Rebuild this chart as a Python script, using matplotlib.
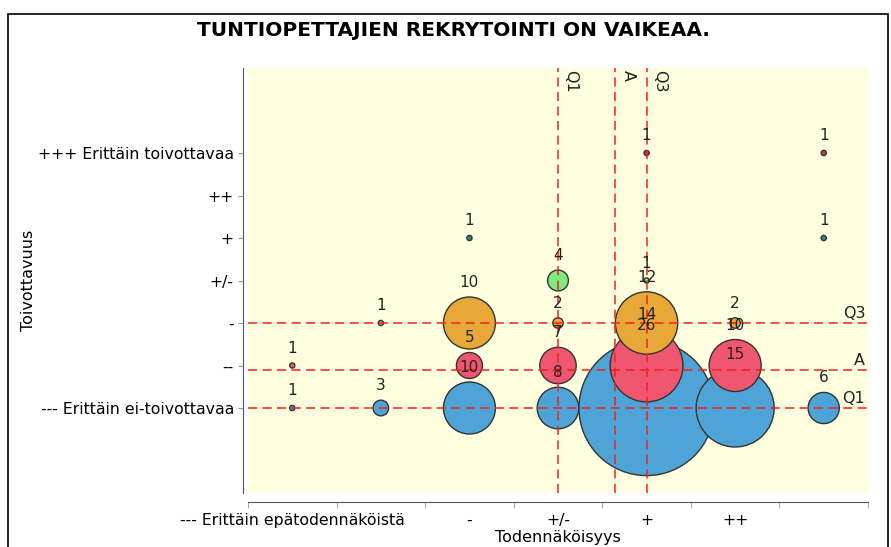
import numpy as np
import matplotlib
matplotlib.use("Agg")
import matplotlib.pyplot as plt
from matplotlib.patches import Rectangle

# likelihood (x) and desirability (y) scales, 1 = "---" ... 7 = "+++"
x_labels = ["--- Erittäin epätodennäköistä", "", "-", "+/-", "+", "++", ""]
y_labels = ["--- Erittäin ei-toivottavaa", "--", "-", "+/-", "+", "++",
            "+++ Erittäin toivottavaa"]

# answers per cell, one list per desirability row
row_1 = {"x": [1, 2, 3, 4, 5, 6, 7], "n": [1, 3, 10, 8, 26, 15, 6]}
row_2 = {"x": [1, 3, 4, 5, 6], "n": [1, 5, 7, 14, 10]}
row_3 = {"x": [2, 3, 4, 5, 6], "n": [1, 10, 2, 12, 2]}
row_4 = {"x": [4, 5], "n": [4, 1]}
row_5 = {"x": [3, 7], "n": [1, 1]}
row_7 = {"x": [5, 7], "n": [1, 1]}

rows = [(1, row_1, "#4ea4d6"),
        (2, row_2, "#f05670"),
        (3, row_3, "#e8a838"),
        (4, row_4, "#80ea80"),
        (5, row_5, "#2a8a8a"),
        (7, row_7, "#c83c3c")]

PX = 0.72          # points per pixel at dpi 100
R_PER_ANSWER = 2.6  # bubble radius in pixels per answer


def weighted_stats(values, weights):
    values = np.asarray(values, float)
    weights = np.asarray(weights, float)
    order = np.argsort(values)
    values, weights = values[order], weights[order]
    cum = np.cumsum(weights) / weights.sum()
    q1 = values[np.searchsorted(cum, 0.25)]
    q3 = values[np.searchsorted(cum, 0.75)]
    mean = (values * weights).sum() / weights.sum()
    return q1, mean, q3


all_x, all_y, all_n = [], [], []
for y, row, _ in rows:
    all_x += row["x"]
    all_y += [y] * len(row["x"])
    all_n += row["n"]

xq1, xa, xq3 = weighted_stats(all_x, all_n)
yq1, ya, yq3 = weighted_stats(all_y, all_n)

fig = plt.figure(figsize=(8.91, 5.47), dpi=100)
ax = fig.add_axes([248 / 891, 1 - 493 / 547, 620 / 891, 425 / 547])
ax.set_facecolor("#ffffe0")

for y, row, color in rows:
    xs = np.array(row["x"])
    ns = np.array(row["n"])
    ys = np.full(len(xs), y)
    sizes = (2 * R_PER_ANSWER * ns * PX) ** 2
    ax.scatter(xs, ys, s=sizes, color=color, edgecolors="#333333",
               linewidths=1.0, zorder=2 + y * 0.01)
    for xi, ni in zip(xs, ns):
        ax.annotate(str(ni), (xi, y),
                    xytext=(0, (R_PER_ANSWER * ni + 14.5) * PX),
                    textcoords="offset points", ha="center", va="center",
                    fontsize=11, color="#222222", zorder=5)

# quartile and mean lines
red = "#ee2222"
dash = (0, (6, 3.5))
for val, name in [(xq1, "Q1"), (xa, "A"), (xq3, "Q3")]:
    ax.axvline(val, color=red, lw=1.1, linestyle=dash, zorder=4)
    ax.text(val + 0.06, 8.95, name, rotation=270, ha="left", va="top",
            fontsize=11.5, color="#222222", zorder=5)
for val, name in [(yq1, "Q1"), (ya, "A"), (yq3, "Q3")]:
    ax.axhline(val, color=red, lw=1.1, linestyle=dash, zorder=4)
    ax.text(7.47, val + 0.05, name, ha="right", va="bottom",
            fontsize=11.5, color="#222222", zorder=5)

ax.set_xlim(0.5, 7.5)
ax.set_ylim(-1, 9)

ax.set_xticks(range(1, 8))
ax.set_xticklabels(x_labels)
ax.set_xticks(np.arange(0.5, 8, 1), minor=True)
ax.tick_params(axis="x", which="major", length=0, pad=8, labelsize=11.3)
ax.tick_params(axis="x", which="minor", length=4.5, color="#999999")

ax.set_yticks(range(1, 8))
ax.set_yticklabels(y_labels)
ax.tick_params(axis="y", length=3.6, color="#999999", pad=3, labelsize=11.3)

ax.spines["top"].set_visible(False)
ax.spines["right"].set_visible(False)
ax.spines["left"].set_position(("outward", 3.6))
ax.spines["bottom"].set_position(("outward", 6.5))
ax.spines["left"].set_color("#555555")
ax.spines["bottom"].set_color("#555555")

ax.set_xlabel("Todennäköisyys", fontsize=11.5, labelpad=1.5)
ax.set_ylabel("Toivottavuus", fontsize=11.5, labelpad=0)
ax.yaxis.set_label_coords((36 - 248) / 620, 0.5)

fig.text(453 / 891, 1 - 30 / 547, "TUNTIOPETTAJIEN REKRYTOINTI ON VAIKEAA.",
         ha="center", va="center", fontsize=14.5, fontweight="bold")

fig.patches.append(Rectangle((8 / 891, -0.05), 880 / 891, 1.05 - 14 / 547,
                             transform=fig.transFigure, fill=False,
                             edgecolor="black", linewidth=1.2))

fig.savefig("out.png", dpi=100)
